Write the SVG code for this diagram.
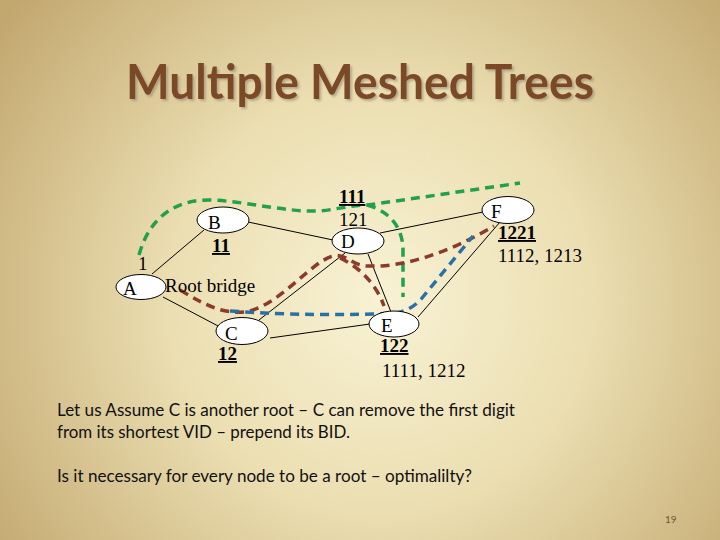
<svg xmlns="http://www.w3.org/2000/svg" width="720" height="540" viewBox="0 0 720 540">
<defs>
<radialGradient id="bg" cx="380" cy="300" r="470" gradientUnits="userSpaceOnUse">
<stop offset="0" stop-color="#f8f2d4"/>
<stop offset="0.45" stop-color="#ebdeb1"/>
<stop offset="1" stop-color="#c2a76f"/>
</radialGradient>
<filter id="shadow" x="-5%" y="-20%" width="110%" height="140%">
<feDropShadow dx="2" dy="2" stdDeviation="1" flood-color="#8a8070" flood-opacity="0.55"/>
</filter>
<style>
.node{fill:#fff;stroke:#000;stroke-width:1}
.lbl{font-family:"Liberation Serif","Times New Roman",serif;font-size:19px;fill:#000}
.num{font-family:"Liberation Serif","Times New Roman",serif;font-size:19px;font-weight:bold;fill:#000;text-decoration:underline}
.edge{stroke:#000;stroke-width:1;fill:none}
.dash{fill:none;stroke-width:3.5;stroke-dasharray:9 6}
.g{stroke:#22a04a}
.r{stroke:#8c3a2c}
.b{stroke:#2a70a8}
.body{font-family:"Lato","Liberation Sans",sans-serif;font-size:17px;fill:#111}
</style>
</defs>
<rect width="720" height="540" fill="url(#bg)"/>
<g id="title">
<text x="126" y="99" font-family="Lato,'Liberation Sans',sans-serif" font-size="47" font-weight="bold" fill="#7b4a28" textLength="468" lengthAdjust="spacingAndGlyphs" filter="url(#shadow)">Multiple Meshed Trees</text>
</g>
<g id="connectors">
<line class="edge" x1="152" y1="274" x2="204" y2="230"/>
<line class="edge" x1="163" y1="297" x2="220" y2="327"/>
<line class="edge" x1="248" y1="222" x2="333" y2="240"/>
<line class="edge" x1="380" y1="233" x2="483" y2="212"/>
<line class="edge" x1="345" y1="253" x2="259" y2="320"/>
<line class="edge" x1="368" y1="254" x2="391" y2="312"/>
<line class="edge" x1="270" y1="338" x2="370" y2="324"/>
<line class="edge" x1="418" y1="317" x2="500" y2="222"/>
<path class="dash g" d="M139,255 C150,215 178,199 212,200 C250,202 285,212 318,211 C335,210 350,205 368,205 L520,183"/>
<path class="dash g" d="M367,205 C392,212 403,230 403,250 L403,297"/>
<path class="dash r" d="M180,290 C205,305 222,314 245,312 C280,306 310,262 333,256 C346,253 352,266 368,266 C412,268 462,245 494,226"/>
<path class="dash r" d="M340,258 C362,268 378,288 384,306"/>
<path class="dash b" d="M230,311 Q320,317 396,313 Q412,310 422,298 L473,236"/>
</g>
<g id="A">
<ellipse class="node" cx="141" cy="287" rx="25" ry="12.5"/>
<text class="lbl" x="123" y="295">A</text>
<text class="lbl" x="138" y="270">1</text>
<text class="lbl" x="165" y="292">Root bridge</text>
</g>
<g id="B">
<ellipse class="node" cx="223" cy="220" rx="26" ry="13"/>
<text class="lbl" x="208" y="229">B</text>
<text class="num" x="212" y="252">11</text>
</g>
<g id="D">
<ellipse class="node" cx="358" cy="241" rx="26" ry="13"/>
<text class="lbl" x="341" y="248">D</text>
<text class="num" x="339" y="203">111</text>
<text class="lbl" x="339" y="226">121</text>
</g>
<g id="F">
<ellipse class="node" cx="508" cy="210" rx="26" ry="13.5"/>
<text class="lbl" x="491" y="218">F</text>
<text class="num" x="498" y="239">1221</text>
<text class="lbl" x="498" y="262">1112, 1213</text>
</g>
<g id="C">
<ellipse class="node" cx="242" cy="331" rx="26" ry="13.5"/>
<text class="lbl" x="225" y="340">C</text>
<text class="num" x="218" y="360">12</text>
</g>
<g id="E">
<ellipse class="node" cx="394" cy="324" rx="25" ry="13"/>
<text class="lbl" x="381" y="332">E</text>
<text class="num" x="380" y="352">122</text>
<text class="lbl" x="382" y="377">1111, 1212</text>
</g>
<g id="bodytext">
<text class="body" x="57" y="416" textLength="458" lengthAdjust="spacingAndGlyphs">Let us Assume C is another root – C can remove the first digit</text>
<text class="body" x="57" y="438" textLength="293" lengthAdjust="spacingAndGlyphs">from its shortest VID – prepend its BID.</text>
<text class="body" x="57" y="482" textLength="415" lengthAdjust="spacingAndGlyphs">Is it necessary for every node to be a root – optimalilty?</text>
<text x="665" y="523" font-family="Lato,'Liberation Sans',sans-serif" font-size="10" fill="#6e5530">19</text>
</g>
</svg>
